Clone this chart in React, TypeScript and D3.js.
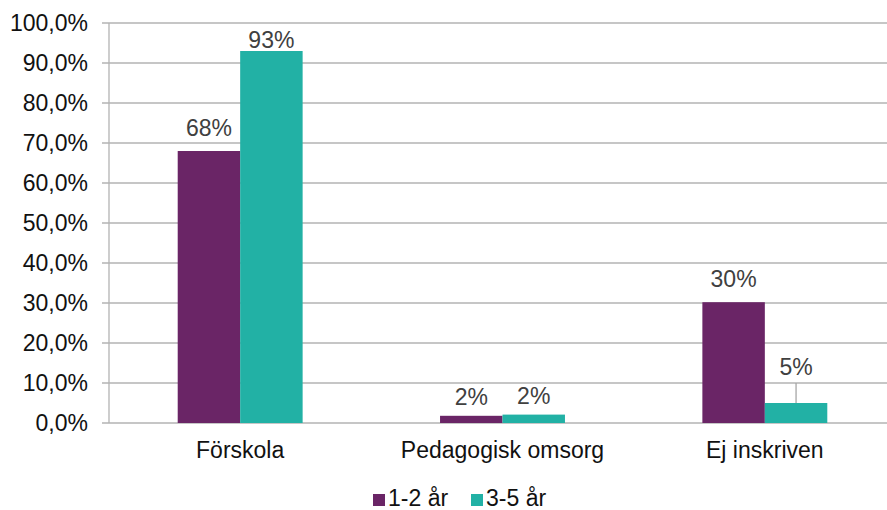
import React from "react";
import * as d3 from "d3";

const categories = ["Förskola", "Pedagogisk omsorg", "Ej inskriven"];
const seriesNames = ["1-2 år", "3-5 år"];
const series1 = [0.68, 0.018, 0.302];
const series2 = [0.93, 0.021, 0.05];
const labels1 = ["68%", "2%", "30%"];
const labels2 = ["93%", "2%", "5%"];
const yTicks = [0, 0.1, 0.2, 0.3, 0.4, 0.5, 0.6, 0.7, 0.8, 0.9, 1.0];

const colors = ["#6A2566", "#22B1A5"];
const W = 887;
const H = 510;
const FONT = "'Liberation Sans', Arial, sans-serif";
const FS = 23;

export default function App() {
  const x = d3.scaleBand<string>().domain(categories).range([109, 896]).padding(0);
  const groupW = x.bandwidth() * (125 / 262.5);
  const xs = d3.scaleBand<string>().domain(seriesNames).range([0, groupW]).padding(0);
  const y = d3.scaleLinear().domain([0, 1]).range([423, 23]);
  const fmt = (v: number) => d3.format(".1f")(v * 100).replace(".", ",") + "%";
  const allSeries = [
    { name: seriesNames[0], values: series1, labels: labels1 },
    { name: seriesNames[1], values: series2, labels: labels2 },
  ];

  return (
    <svg width={W} height={H} style={{ position: "absolute", left: 0, top: 0, background: "#fff" }} fontFamily={FONT}>
      {yTicks.map((t) => (
        <g key={t}>
          <line x1={102} x2={W} y1={y(t)} y2={y(t)} stroke="#B3B3B3" strokeWidth={1.3} />
          <text x={88} y={y(t)} dy="0.36em" textAnchor="end" fontSize={FS} fill="#111">
            {fmt(t)}
          </text>
        </g>
      ))}
      <line x1={109} x2={109} y1={y(1)} y2={y(0)} stroke="#B3B3B3" strokeWidth={1.3} />
      {allSeries.map((s, si) =>
        categories.map((c, ci) => {
          const bx = (x(c) as number) + (x.bandwidth() - groupW) / 2 + (xs(s.name) as number);
          const by = y(s.values[ci]);
          const cx = bx + xs.bandwidth() / 2;
          const needsLeader = s.values[ci] < 0.1 && s.values[ci] > 0.04;
          const ly = Math.max(by - 15, y(1) + 25);
          return (
            <g key={s.name + c}>
              <rect x={bx} y={by} width={xs.bandwidth()} height={y(0) - by} fill={colors[si]} />
              {needsLeader ? (
                <>
                  <line x1={cx} x2={cx} y1={by} y2={by - 20} stroke="#A6A6A6" strokeWidth={1.3} />
                  <text x={cx} y={by - 28} textAnchor="middle" fontSize={FS} fill="#404040">
                    {s.labels[ci]}
                  </text>
                </>
              ) : (
                <text x={cx} y={s.values[ci] < 0.04 ? by - 11 : ly} textAnchor="middle" fontSize={FS} fill="#404040">
                  {s.labels[ci]}
                </text>
              )}
            </g>
          );
        })
      )}
      {categories.map((c) => (
        <text key={c} x={(x(c) as number) + x.bandwidth() / 2} y={458} textAnchor="middle" fontSize={FS} fill="#111">
          {c}
        </text>
      ))}
      {seriesNames.map((n, i) => {
        const lx = i === 0 ? 373 : 471;
        return (
          <g key={n}>
            <rect x={lx} y={494} width={12} height={12} fill={colors[i]} />
            <text x={lx + 15} y={506} fontSize={FS} fill="#111">
              {n}
            </text>
          </g>
        );
      })}
    </svg>
  );
}
